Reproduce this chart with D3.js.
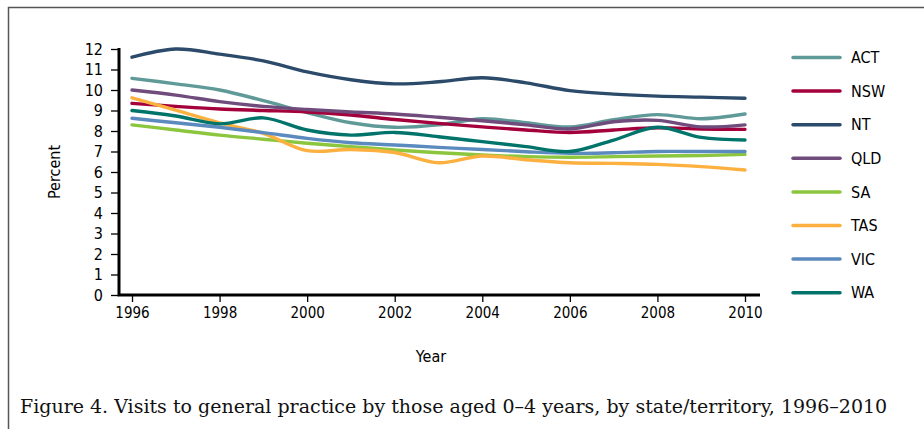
<!DOCTYPE html>
<html>
<head>
<meta charset="utf-8">
<script src="https://cdn.jsdelivr.net/npm/d3@7"></script>
<style>
  html, body { margin: 0; padding: 0; background: #fff; }
  svg { display: block; }
  .tick text { font-family: "DejaVu Sans Condensed", "DejaVu Sans", sans-serif; fill: #000; }
  .label { font-family: "DejaVu Sans Condensed", "DejaVu Sans", sans-serif; fill: #000; }
  .caption { font-family: "DejaVu Serif", serif; fill: #111; }
</style>
</head>
<body>
<svg id="chart" width="924" height="429"></svg>
<script>
// years on the x axis
const years = d3.range(1996, 2011);
const xTicks = [1996, 1998, 2000, 2002, 2004, 2006, 2008, 2010];
const yTicks = d3.range(0, 13);

// series values (percent)
const states = ["ACT", "NSW", "NT", "QLD", "SA", "TAS", "VIC", "WA"];
const act = [10.57, 10.3, 10.0, 9.48, 8.9, 8.4, 8.18, 8.3, 8.6, 8.4, 8.2, 8.55, 8.8, 8.6, 8.83];
const nsw = [9.35, 9.2, 9.07, 9.0, 8.93, 8.78, 8.56, 8.37, 8.2, 8.05, 7.93, 8.05, 8.16, 8.1, 8.08];
const nt  = [11.6, 12.0, 11.75, 11.42, 10.88, 10.5, 10.3, 10.4, 10.6, 10.35, 9.97, 9.8, 9.7, 9.65, 9.6];
const qld = [10.0, 9.75, 9.43, 9.2, 9.05, 8.93, 8.83, 8.67, 8.5, 8.3, 8.1, 8.45, 8.52, 8.2, 8.3];
const sa  = [8.3, 8.05, 7.8, 7.6, 7.4, 7.24, 7.07, 6.94, 6.83, 6.75, 6.72, 6.75, 6.78, 6.8, 6.86];
const tas = [9.62, 9.02, 8.4, 7.88, 7.04, 7.1, 6.95, 6.45, 6.78, 6.6, 6.45, 6.42, 6.37, 6.26, 6.1];
const vic = [8.62, 8.4, 8.18, 7.92, 7.64, 7.43, 7.32, 7.2, 7.1, 6.99, 6.91, 6.94, 7.0, 7.0, 7.0];
const wa  = [9.0, 8.73, 8.35, 8.64, 8.05, 7.8, 7.93, 7.72, 7.48, 7.24, 7.0, 7.56, 8.18, 7.69, 7.56];
const colors = ["#5f9a99", "#a4003b", "#2c4a6a", "#6f4c7c", "#8cc63f", "#fbb040", "#5b8abe", "#00746a"];

const seriesValues = [act, nsw, nt, qld, sa, tas, vic, wa];

const svg = d3.select("#chart");

// frame round the figure (top and left edges show, runs off right/bottom)
svg.append("path")
  .attr("d", "M8.5,429 L8.5,7.5 L924,7.5")
  .attr("fill", "none")
  .attr("stroke", "#555")
  .attr("stroke-width", 1.5);

const x = d3.scaleLinear().domain([1996, 2010]).range([132, 745]);
const y = d3.scaleLinear().domain([0, 12]).range([295, 49]);

// y axis
const yAxis = svg.append("g")
  .attr("transform", "translate(119,0)")
  .call(d3.axisLeft(y).tickValues(yTicks).tickSize(8).tickPadding(8).tickSizeOuter(0));
yAxis.select(".domain").remove();
yAxis.selectAll(".tick line").attr("stroke", "#000").attr("stroke-width", 1.3);
yAxis.selectAll(".tick text").style("font-size", "16px");

// x axis
const xAxis = svg.append("g")
  .attr("transform", "translate(0,295)")
  .call(d3.axisBottom(x).tickValues(xTicks).tickFormat(d3.format("d")).tickSize(7).tickPadding(5).tickSizeOuter(0));
xAxis.select(".domain").remove();
xAxis.selectAll(".tick line").attr("stroke", "#000").attr("stroke-width", 1.3);
xAxis.selectAll(".tick text").style("font-size", "15px");

// thick axis lines
svg.append("path")
  .attr("d", "M119,48 L119,295 L760,295")
  .attr("fill", "none")
  .attr("stroke", "#000")
  .attr("stroke-width", 3);

// lines
const line = d3.line()
  .x((d, i) => x(years[i]))
  .y(d => y(d))
  .curve(d3.curveCatmullRom.alpha(0.5));

svg.append("g")
  .selectAll("path")
  .data(seriesValues)
  .join("path")
  .attr("d", line)
  .attr("fill", "none")
  .attr("stroke", (d, i) => colors[i])
  .attr("stroke-width", 3.4)
  .attr("stroke-linecap", "round");

// axis titles
svg.append("text")
  .attr("class", "label")
  .attr("transform", "translate(60,172) rotate(-90)")
  .attr("text-anchor", "middle")
  .style("font-size", "16px")
  .text("Percent");

svg.append("text")
  .attr("class", "label")
  .attr("x", 431)
  .attr("y", 362)
  .attr("text-anchor", "middle")
  .style("font-size", "16px")
  .text("Year");

// legend
const legend = svg.append("g")
  .selectAll("g")
  .data(states)
  .join("g")
  .attr("transform", (d, i) => `translate(793,${57.5 + i * 33.6})`);

legend.append("line")
  .attr("x1", 0).attr("x2", 47)
  .attr("stroke", (d, i) => colors[i])
  .attr("stroke-width", 3.5)
  .attr("stroke-linecap", "round");

legend.append("text")
  .attr("class", "label")
  .attr("x", 58)
  .attr("dy", "0.36em")
  .style("font-size", "16px")
  .text(d => d);

// caption
svg.append("text")
  .attr("class", "caption")
  .attr("x", 20)
  .attr("y", 413)
  .style("font-size", "19px")
  .text("Figure 4. Visits to general practice by those aged 0\u20134 years, by state/territory, 1996\u20132010");
</script>
</body>
</html>
